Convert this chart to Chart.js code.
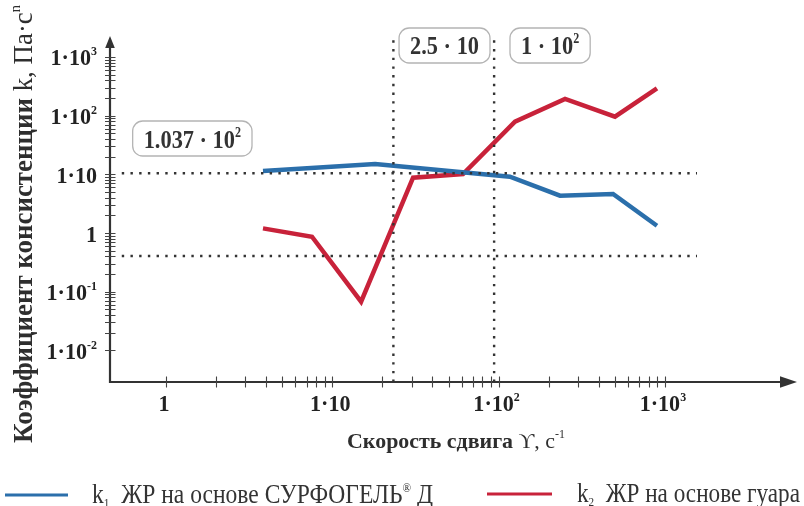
<!DOCTYPE html>
<html><head><meta charset="utf-8">
<script src="https://cdn.jsdelivr.net/npm/chart.js@4"></script>
<style>html,body{margin:0;padding:0;background:#fff}#wrap{width:804px;height:506px;position:relative}</style>
</head><body><div id="wrap"><canvas id="c"></canvas></div>
<script>
// ---- data ----
const blueShearRate   = [3.83, 18.1, 117, 234, 488, 896];
const blueConsistency = [11.4, 15.0, 9.1, 4.32, 4.62, 1.33];
const redShearRate    = [3.83, 7.55, 14.9, 30.6, 61.1, 125.5, 251, 501, 896];
const redConsistency  = [1.20, 0.865, 0.0676, 8.75, 10.1, 78.7, 192, 95.8, 292];

const xTickValues = [1, 10, 100, 1000];
const xTickBase   = ['1', '1·10', '1·10', '1·10'];
const xTickExp    = ['', '', '2', '3'];
const yTickValues = [0.01, 0.1, 1, 10, 100, 1000];
const yTickBase   = ['1·10', '1·10', '1', '1·10', '1·10', '1·10'];
const yTickExp    = ['-2', '-1', '', '', '2', '3'];

const refLevelsY = [10.4, 0.405];
const refLevelsX = [23.3, 94];
const refSpanX   = [0.542, 1560];

const noteText = ['1.037 · 10', '2.5 · 10', '1 · 10'];
const noteExp  = ['2', '', '2'];
const noteX    = [1.44, 47.3, 204];
const noteY    = [40.7, 1564, 1564];

const xRange = [0.4605, 6229];
const yRange = [0.002896, 2270];

const BLUE = '#2b6fab';
const RED = '#c8223a';
const INK = '#2e2e2e';
const SERIF = "'Liberation Serif','Times New Roman',serif";

function pts(xs, ys) { return xs.map((x, i) => ({ x: x, y: ys[i] })); }

const dotted = { borderColor: '#333', borderWidth: 2.4, borderDash: [2.4, 6.3], pointRadius: 0, showLine: true, fill: false, borderCapStyle: 'butt' };
const refSets = [];
refLevelsY.forEach(v => refSets.push(Object.assign({ data: [{ x: refSpanX[0], y: v }, { x: refSpanX[1], y: v }] }, dotted)));
refLevelsX.forEach(v => refSets.push(Object.assign({ data: [{ x: v, y: yRange[0] }, { x: v, y: yRange[1] }] }, dotted)));

function rich(ctx, parts, x, y, align, sx) {
  let w = 0;
  for (const p of parts) { ctx.font = p.f; p.w = ctx.measureText(p.t).width; w += p.w; }
  if (sx === undefined) sx = 1;
  const tw = w * sx;
  const x0 = align === 'center' ? x - tw / 2 : (align === 'right' ? x - tw : x);
  ctx.save();
  ctx.translate(x0, y); ctx.scale(sx, 1);
  ctx.textAlign = 'left'; ctx.textBaseline = 'alphabetic';
  let cx = 0;
  for (const p of parts) { ctx.font = p.f; ctx.fillText(p.t, cx, p.dy || 0); cx += p.w; }
  ctx.restore();
  return tw;
}
function measure(ctx, parts) {
  let w = 0;
  for (const p of parts) { ctx.font = p.f; w += ctx.measureText(p.t).width; }
  return w;
}
function rrect(ctx, x, y, w, h, r) {
  ctx.beginPath();
  ctx.moveTo(x + r, y); ctx.lineTo(x + w - r, y); ctx.arcTo(x + w, y, x + w, y + r, r);
  ctx.lineTo(x + w, y + h - r); ctx.arcTo(x + w, y + h, x + w - r, y + h, r);
  ctx.lineTo(x + r, y + h); ctx.arcTo(x, y + h, x, y + h - r, r);
  ctx.lineTo(x, y + r); ctx.arcTo(x, y, x + r, y, r);
  ctx.closePath();
}

const decor = {
  id: 'decor',
  afterDraw(chart) {
    const ctx = chart.ctx, xs = chart.scales.x, ys = chart.scales.y, a = chart.chartArea;
    const ax = Math.round(a.left) , by = Math.round(a.bottom);
    ctx.save();
    // axes
    ctx.strokeStyle = '#333'; ctx.fillStyle = '#333'; ctx.lineWidth = 2.2;
    ctx.beginPath(); ctx.moveTo(ax, a.top + 10); ctx.lineTo(ax, by); ctx.lineTo(a.right - 12, by); ctx.stroke();
    ctx.beginPath(); ctx.moveTo(ax, a.top); ctx.lineTo(ax - 4.8, a.top + 12); ctx.lineTo(ax + 4.8, a.top + 12); ctx.closePath(); ctx.fill();
    ctx.beginPath(); ctx.moveTo(a.right, by); ctx.lineTo(a.right - 17, by - 5.8); ctx.lineTo(a.right - 17, by + 5.8); ctx.closePath(); ctx.fill();
    // minor / major ticks
    ctx.lineWidth = 1.1; ctx.strokeStyle = '#444';
    ctx.beginPath();
    for (let n = 0; n <= 3; n++) for (let k = 1; k <= 9; k++) {
      const v = k * Math.pow(10, n); if (v > 1000) break;
      const px = Math.round(xs.getPixelForValue(v)) + 0.5;
      ctx.moveTo(px, by - 5.5); ctx.lineTo(px, by + 5.5);
    }
    for (let n = -2; n <= 3; n++) for (let k = 1; k <= 9; k++) {
      const v = k * Math.pow(10, n); if (v > 1000) break;
      const py = Math.round(ys.getPixelForValue(v)) + 0.5;
      ctx.moveTo(ax - 5, py); ctx.lineTo(ax + 5.5, py);
    }
    ctx.stroke();
    // tick labels
    ctx.fillStyle = '#222';
    const fB = 'bold 24px ' + SERIF, fE = 'bold 13px ' + SERIF;
    xTickValues.forEach((v, i) => {
      const parts = [{ t: xTickBase[i], f: fB }];
      if (xTickExp[i]) parts.push({ t: xTickExp[i], f: fE, dy: -10 });
      rich(ctx, parts, xs.getPixelForValue(v) - 2, 411, 'center', 0.92);
    });
    yTickValues.forEach((v, i) => {
      const parts = [{ t: yTickBase[i], f: fB }];
      if (yTickExp[i]) parts.push({ t: yTickExp[i], f: fE, dy: -10 });
      rich(ctx, parts, 97, ys.getPixelForValue(v) + 8.5, 'right', 0.92);
    });
    // annotation boxes
    noteText.forEach((t, i) => {
      const cx = xs.getPixelForValue(noteX[i]), cy = ys.getPixelForValue(noteY[i]);
      const parts = [{ t: t, f: 'bold 26px ' + SERIF }];
      if (noteExp[i]) parts.push({ t: noteExp[i], f: 'bold 14px ' + SERIF, dy: -11 });
      const sx = 0.86;
      const w = measure(ctx, parts) * sx;
      ctx.strokeStyle = '#b4b4b4'; ctx.lineWidth = 1.3;
      rrect(ctx, cx - w / 2 - 11, cy - 17.5, w + 22, 35, 10); ctx.stroke();
      ctx.fillStyle = '#333';
      rich(ctx, parts, cx, cy + 9, 'center', sx);
    });
    // y title (rotated)
    ctx.fillStyle = INK;
    {
      const parts = [
        { t: 'Коэффициент консистенции ', f: 'bold 28px ' + SERIF },
        { t: 'k, Па·c', f: '28px ' + SERIF },
        { t: 'n', f: '15px ' + SERIF, dy: -12 }
      ];
      const w = measure(ctx, parts);
      ctx.save(); ctx.translate(32, 443); ctx.rotate(-Math.PI / 2);
      rich(ctx, parts, 0, 0, 'left', 438 / w);
      ctx.restore();
    }
    // x title
    {
      const parts = [
        { t: 'Скорость сдвига ', f: 'bold 22px ' + SERIF },
        { t: 'ϒ, c', f: '22px ' + SERIF },
        { t: '-1', f: '12px ' + SERIF, dy: -10 }
      ];
      const w = measure(ctx, parts);
      rich(ctx, parts, 347, 448, 'left', 218 / w);
    }
    // legend
    ctx.lineWidth = 3;
    ctx.strokeStyle = BLUE; ctx.beginPath(); ctx.moveTo(5, 495); ctx.lineTo(68, 495); ctx.stroke();
    ctx.strokeStyle = RED; ctx.beginPath(); ctx.moveTo(487, 494); ctx.lineTo(552, 494); ctx.stroke();
    ctx.fillStyle = '#333';
    {
      const f = '27px ' + SERIF, fs = '13px ' + SERIF;
      const p1 = [{ t: 'k', f: f }, { t: '1', f: fs, dy: 4 }, { t: '  ЖР на основе СУРФОГЕЛЬ', f: f }, { t: '®', f: fs, dy: -11 }, { t: ' Д', f: f }];
      rich(ctx, p1, 92, 503, 'left', 341 / measure(ctx, p1));
      const p2 = [{ t: 'k', f: f }, { t: '2', f: fs, dy: 4 }, { t: '  ЖР на основе гуара', f: f }];
      rich(ctx, p2, 577, 502, 'left', 223 / measure(ctx, p2));
    }
    ctx.restore();
  }
};

new Chart(document.getElementById('c'), {
  type: 'scatter',
  data: {
    datasets: refSets.concat([
      { label: 'k1 ЖР на основе СУРФОГЕЛЬ® Д', data: pts(blueShearRate, blueConsistency), borderColor: BLUE, backgroundColor: BLUE, borderWidth: 4.5, pointRadius: 0, showLine: true, fill: false, borderJoinStyle: 'miter' },
      { label: 'k2 ЖР на основе гуара', data: pts(redShearRate, redConsistency), borderColor: RED, backgroundColor: RED, borderWidth: 4.5, pointRadius: 0, showLine: true, fill: false, borderJoinStyle: 'miter' }
    ])
  },
  options: {
    responsive: true, maintainAspectRatio: false, animation: false, devicePixelRatio: 1,
    layout: { padding: { left: 110, right: 7, top: 36, bottom: 124 } },
    plugins: { legend: { display: false }, tooltip: { enabled: false } },
    scales: {
      x: { type: 'logarithmic', display: false, min: xRange[0], max: xRange[1], bounds: 'data' },
      y: { type: 'logarithmic', display: false, min: yRange[0], max: yRange[1], bounds: 'data' }
    }
  },
  plugins: [decor]
});
</script>
</body></html>
